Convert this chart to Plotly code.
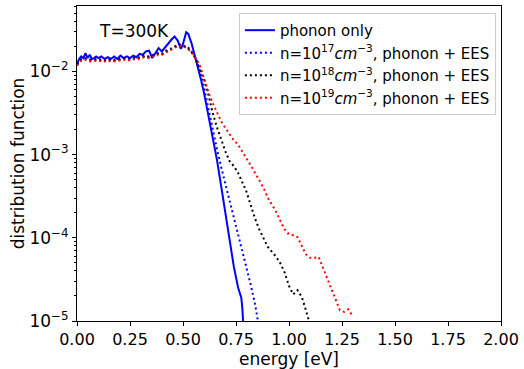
import plotly.graph_objects as go

# energy [eV] and log10(distribution function)
e_phonon = [0.000, 0.010, 0.020, 0.030, 0.040, 0.050, 0.060, 0.070, 0.080, 0.090,
            0.100, 0.115, 0.130, 0.145, 0.160, 0.175, 0.190, 0.205, 0.220, 0.235,
            0.250, 0.265, 0.280, 0.295, 0.310, 0.325, 0.340, 0.355, 0.370, 0.385,
            0.400, 0.415, 0.430, 0.445, 0.460, 0.475, 0.490, 0.500, 0.515, 0.525,
            0.540, 0.555, 0.570, 0.585, 0.600, 0.620, 0.640, 0.660, 0.680, 0.700,
            0.720, 0.740, 0.760, 0.775, 0.780, 0.790]
lg_phonon = [-1.91, -1.85, -1.82, -1.84, -1.78, -1.84, -1.80, -1.85, -1.84, -1.82,
             -1.84, -1.82, -1.85, -1.83, -1.85, -1.82, -1.85, -1.81, -1.84, -1.82,
             -1.84, -1.81, -1.83, -1.79, -1.80, -1.76, -1.75, -1.84, -1.78, -1.72,
             -1.76, -1.71, -1.67, -1.62, -1.58, -1.63, -1.73, -1.67, -1.53, -1.55,
             -1.66, -1.80, -1.95, -2.10, -2.27, -2.52, -2.80, -3.06, -3.38, -3.70,
             -3.98, -4.35, -4.60, -4.72, -4.85, -5.30]

e_n17 = [0.00, 0.02, 0.04, 0.06, 0.08, 0.10, 0.12, 0.14, 0.16, 0.18, 0.20, 0.22,
         0.24, 0.26, 0.28, 0.30, 0.32, 0.34, 0.36, 0.38, 0.40, 0.42, 0.44, 0.46,
         0.48, 0.50, 0.52, 0.54, 0.56, 0.58, 0.60, 0.62, 0.64, 0.66, 0.68, 0.70,
         0.72, 0.74, 0.76, 0.78, 0.80, 0.82, 0.84, 0.86]
lg_n17 = [-1.91, -1.85, -1.84, -1.86, -1.85, -1.86, -1.85, -1.87, -1.85, -1.86, -1.85, -1.84,
          -1.85, -1.83, -1.84, -1.82, -1.81, -1.82, -1.80, -1.78, -1.79, -1.75, -1.73, -1.70,
          -1.67, -1.69, -1.70, -1.76, -1.84, -2.00, -2.20, -2.45, -2.70, -2.93, -3.15, -3.35,
          -3.55, -3.76, -3.96, -4.17, -4.38, -4.57, -4.80, -5.10]

e_n18 = [0.00, 0.02, 0.04, 0.06, 0.08, 0.10, 0.12, 0.14, 0.16, 0.18, 0.20, 0.22,
         0.24, 0.26, 0.28, 0.30, 0.32, 0.34, 0.36, 0.38, 0.40, 0.42, 0.44, 0.46,
         0.48, 0.50, 0.52, 0.54, 0.56, 0.58, 0.60, 0.62, 0.64, 0.66, 0.68, 0.70,
         0.72, 0.74, 0.76, 0.78, 0.80, 0.82, 0.84, 0.86, 0.88, 0.90, 0.92, 0.94,
         0.96, 0.98, 1.00, 1.02, 1.04, 1.06, 1.08, 1.10]
lg_n18 = [-1.92, -1.86, -1.85, -1.86, -1.86, -1.87, -1.86, -1.88, -1.86, -1.87, -1.86, -1.85,
          -1.86, -1.84, -1.85, -1.83, -1.82, -1.83, -1.81, -1.79, -1.80, -1.76, -1.74, -1.71,
          -1.68, -1.70, -1.71, -1.77, -1.85, -1.97, -2.10, -2.28, -2.50, -2.67, -2.82, -2.96,
          -3.08, -3.14, -3.22, -3.33, -3.45, -3.61, -3.77, -3.90, -4.01, -4.11, -4.17, -4.23,
          -4.31, -4.42, -4.58, -4.68, -4.63, -4.71, -4.87, -5.05]

e_n19 = [0.00, 0.02, 0.04, 0.06, 0.08, 0.10, 0.12, 0.14, 0.16, 0.18, 0.20, 0.22,
         0.24, 0.26, 0.28, 0.30, 0.32, 0.34, 0.36, 0.38, 0.40, 0.42, 0.44, 0.46,
         0.48, 0.50, 0.52, 0.54, 0.56, 0.58, 0.60, 0.62, 0.64, 0.66, 0.68, 0.70,
         0.72, 0.74, 0.76, 0.78, 0.80, 0.82, 0.84, 0.86, 0.88, 0.90, 0.92, 0.94,
         0.96, 0.98, 1.00, 1.02, 1.04, 1.06, 1.08, 1.10, 1.12, 1.14, 1.16, 1.18,
         1.20, 1.22, 1.24, 1.26, 1.28, 1.30]
lg_n19 = [-1.93, -1.87, -1.86, -1.88, -1.87, -1.88, -1.87, -1.89, -1.87, -1.88, -1.87, -1.86,
          -1.87, -1.85, -1.86, -1.84, -1.83, -1.84, -1.82, -1.80, -1.80, -1.77, -1.75, -1.72,
          -1.69, -1.70, -1.72, -1.77, -1.84, -1.93, -2.10, -2.25, -2.38, -2.49, -2.60, -2.68,
          -2.76, -2.83, -2.88, -2.97, -3.05, -3.13, -3.22, -3.31, -3.40, -3.52, -3.61, -3.69,
          -3.80, -3.90, -3.96, -3.97, -3.99, -4.09, -4.20, -4.24, -4.24, -4.23, -4.36, -4.50,
          -4.63, -4.74, -4.87, -4.89, -4.86, -4.94]

series_names = ["phonon only",
                "n=10<sup>17</sup><i>cm</i><sup>−3</sup>, phonon + EES",
                "n=10<sup>18</sup><i>cm</i><sup>−3</sup>, phonon + EES",
                "n=10<sup>19</sup><i>cm</i><sup>−3</sup>, phonon + EES"]
x_ticks = [0.0, 0.25, 0.5, 0.75, 1.0, 1.25, 1.5, 1.75, 2.0]
x_tick_labels = ["0.00", "0.25", "0.50", "0.75", "1.00", "1.25", "1.50", "1.75", "2.00"]
y_ticks = [1e-5, 1e-4, 1e-3, 1e-2]
y_tick_labels = ["10<sup>−5</sup>", "10<sup>−4</sup>", "10<sup>−3</sup>", "10<sup>−2</sup>"]

FONT = "DejaVu Sans"
fig = go.Figure()
data = [(e_phonon, lg_phonon), (e_n17, lg_n17), (e_n18, lg_n18), (e_n19, lg_n19)]
colors = ["#0000ff", "#0000ff", "#000000", "#ff0000"]
dashes = ["solid", "2px,3px", "2px,3px", "2px,3px"]
widths = [2, 2, 2, 2]
for (ex, lg), name, c, d, w in zip(data, series_names, colors, dashes, widths):
    fig.add_trace(go.Scatter(x=ex, y=[10 ** v for v in lg], mode="lines", name=name,
                             line=dict(color=c, dash=d, width=w)))

fig.add_annotation(x=0.047, y=0.921, xref="paper", yref="paper", text="T=300K",
                   showarrow=False, xanchor="left", yanchor="middle",
                   font=dict(size=17, color="black", family=FONT))

fig.update_layout(
    width=524, height=369,
    margin=dict(l=77, r=23, t=5, b=46),
    paper_bgcolor="white", plot_bgcolor="white",
    font=dict(family=FONT, size=16, color="black"),
    showlegend=True,
    legend=dict(x=0.988, y=0.978, xanchor="right", yanchor="top",
                bgcolor="rgba(255,255,255,0.9)", bordercolor="#cccccc", borderwidth=1,
                font=dict(size=15, family=FONT), tracegroupgap=0, itemwidth=30),
)
fig.update_xaxes(range=[0, 2], tickvals=x_ticks, ticktext=x_tick_labels,
                 showline=True, linecolor="black", linewidth=1, mirror=True,
                 ticks="outside", ticklen=4, tickcolor="black", showgrid=False, zeroline=False,
                 title=dict(text="energy [eV]", standoff=3, font=dict(size=17)),
                 tickfont=dict(size=16))
fig.update_yaxes(type="log", range=[-5, -1.214], tickvals=y_ticks, ticktext=y_tick_labels,
                 showline=True, linecolor="black", linewidth=1, mirror=True,
                 ticks="outside", ticklen=4, tickcolor="black", showgrid=False, zeroline=False,
                 minor=dict(ticks="outside", ticklen=2, tickcolor="black", dtick="D1", showgrid=False),
                 title=dict(text="distribution function", standoff=0, font=dict(size=17)),
                 tickfont=dict(size=17))

fig.write_html("out.html")
